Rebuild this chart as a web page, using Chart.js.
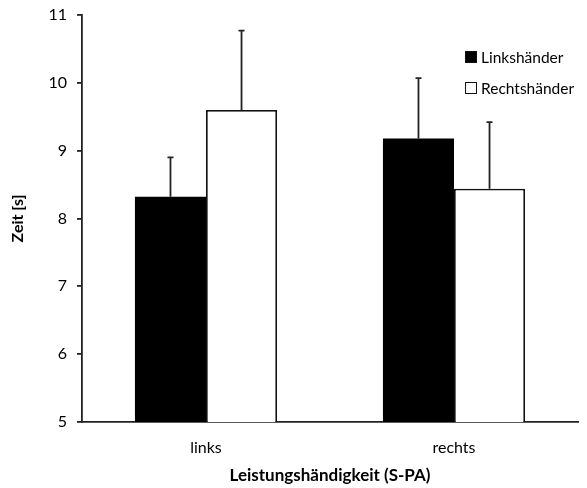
<!DOCTYPE html>
<html>
<head>
<meta charset="utf-8">
<script src="https://cdn.jsdelivr.net/npm/chart.js@4"></script>
<style>
  html, body { margin: 0; padding: 0; background: #fff; }
  #wrap { position: relative; width: 587px; height: 488px; }
  #legende { position: absolute; left: 465px; top: 41px; font-family: Lato, sans-serif; font-size: 15.5px; color: #000; }
  #legende div { display: flex; align-items: center; height: 31px; }
  #legende span.box { display: inline-block; width: 10px; height: 10px; border: 1.5px solid #111; margin-right: 4px; box-sizing: content-box; }
</style>
</head>
<body>
<div id="wrap">
  <canvas id="chart" width="587" height="488"></canvas>
  <div id="legende"></div>
</div>
<script>
// Daten
const kategorien = ['links', 'rechts'];
const linkshaender = [8.32, 9.18];
const linkshaenderFehler = [0.58, 0.89];
const rechtshaender = [9.60, 8.44];
const rechtshaenderFehler = [1.17, 0.98];
const yTicks = [5, 6, 7, 8, 9, 10, 11];

const schrift = 'Lato, sans-serif';

// Fehlerbalken (nur nach oben)
const fehlerbalken = {
  id: 'fehlerbalken',
  afterDatasetsDraw(chart) {
    const ctx = chart.ctx;
    const y = chart.scales.y;
    chart.data.datasets.forEach((ds, i) => {
      const meta = chart.getDatasetMeta(i);
      meta.data.forEach((bar, j) => {
        const top = y.getPixelForValue(ds.data[j] + ds.fehler[j]);
        ctx.save();
        ctx.strokeStyle = '#222';
        ctx.lineWidth = 1.8;
        ctx.beginPath();
        ctx.moveTo(bar.x, bar.y);
        ctx.lineTo(bar.x, top);
        ctx.moveTo(bar.x - 3, top);
        ctx.lineTo(bar.x + 3, top);
        ctx.stroke();
        ctx.restore();
      });
    });
  }
};

const chart = new Chart(document.getElementById('chart'), {
  type: 'bar',
  data: {
    labels: kategorien,
    datasets: [
      { label: 'Linkshänder', data: linkshaender, fehler: linkshaenderFehler,
        backgroundColor: '#000', borderColor: '#000', borderWidth: 0 },
      { label: 'Rechtshänder', data: rechtshaender, fehler: rechtshaenderFehler,
        backgroundColor: '#fff', borderColor: '#111', borderWidth: 1.8, borderSkipped: 'bottom' }
    ]
  },
  options: {
    responsive: false,
    animation: false,
    layout: { padding: { top: 15, right: 9, left: 0, bottom: 0 } },
    plugins: { legend: { display: false }, tooltip: { enabled: false } },
    datasets: { bar: { barPercentage: 1, categoryPercentage: 0.573 } },
    scales: {
      x: {
        grid: { display: false, drawTicks: false },
        border: { display: true, color: '#222', width: 1.8 },
        ticks: { color: '#000', font: { family: schrift, size: 16 }, padding: 16 },
        title: { display: true, text: 'Leistungshändigkeit (S-PA)', color: '#000',
                 font: { family: schrift, size: 17, weight: 'bold' }, padding: { top: 4, bottom: 2 } },
        afterFit(s) { s.height = 66; s.paddingLeft = 0; s.paddingRight = 0; }
      },
      y: {
        min: 5, max: 11,
        afterBuildTicks(s) { s.ticks = yTicks.map(v => ({ value: v })); },
        grid: { drawOnChartArea: false, tickLength: 5, color: '#222', lineWidth: 1.8 },
        border: { display: true, color: '#222', width: 1.8 },
        ticks: { color: '#000', font: { family: schrift, size: 16 }, padding: 10 },
        title: { display: true, text: 'Zeit [s]', color: '#000',
                 font: { family: schrift, size: 16, weight: 'bold' }, padding: { top: 8, bottom: 4 } },
        afterFit(s) { s.width = 82; s.paddingTop = 0; s.paddingBottom = 0; }
      }
    }
  },
  plugins: [fehlerbalken]
});

// Legende
const legende = document.getElementById('legende');
chart.data.datasets.forEach(ds => {
  const zeile = document.createElement('div');
  zeile.innerHTML = `<span class="box" style="background:${ds.backgroundColor}"></span>${ds.label}`;
  legende.appendChild(zeile);
});
</script>
</body>
</html>
